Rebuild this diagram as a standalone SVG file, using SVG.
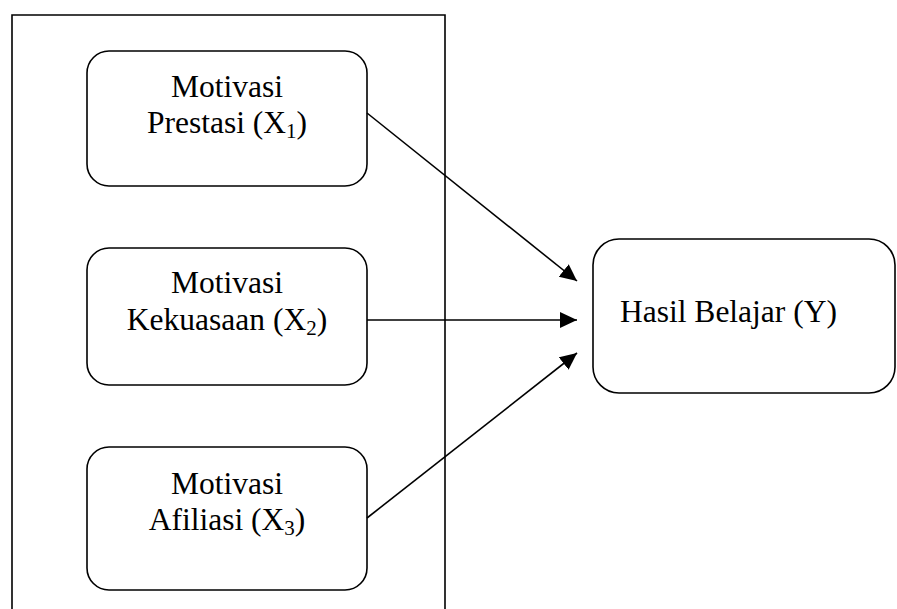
<svg xmlns="http://www.w3.org/2000/svg" width="897" height="609" viewBox="0 0 897 609">
<style>
.box{fill:#fff;stroke:#000;stroke-width:1.6}
.t{font-family:"Liberation Serif","Times New Roman",serif;font-size:31.5px;fill:#000}
.sub{font-size:21px}
.c{stroke:#000;stroke-width:1.6;fill:none}
</style>
<defs>
<marker id="ah" markerUnits="userSpaceOnUse" markerWidth="19" markerHeight="17" refX="17" refY="8" orient="auto">
<path d="M0,0 L17,8 L0,16 Z" fill="#000"/>
</marker>
</defs>
<rect x="0" y="0" width="897" height="609" fill="#fff"/>
<g id="frame">
<path d="M12,609 L12,15 L445,15 L445,609" class="c"/>
</g>
<g id="x1">
<rect class="box" x="87" y="51" width="280" height="135" rx="22"/>
<text class="t" x="227" y="97" text-anchor="middle">Motivasi</text>
<text class="t" x="227" y="133" text-anchor="middle">Prestasi (X<tspan class="sub" dy="5">1</tspan><tspan dy="-5">)</tspan></text>
</g>
<g id="x2">
<rect class="box" x="87" y="248" width="280" height="137" rx="22"/>
<text class="t" x="227" y="293" text-anchor="middle">Motivasi</text>
<text class="t" x="227" y="330" text-anchor="middle">Kekuasaan (X<tspan class="sub" dy="5">2</tspan><tspan dy="-5">)</tspan></text>
</g>
<g id="x3">
<rect class="box" x="87" y="447" width="280" height="143" rx="22"/>
<text class="t" x="227" y="494" text-anchor="middle">Motivasi</text>
<text class="t" x="227" y="530" text-anchor="middle">Afiliasi (X<tspan class="sub" dy="5">3</tspan><tspan dy="-5">)</tspan></text>
</g>
<g id="y">
<rect class="box" x="593" y="239" width="302" height="154" rx="26"/>
<text class="t" x="620" y="322">Hasil Belajar (Y)</text>
</g>
<g id="connectors">
<line class="c" x1="367" y1="113" x2="577" y2="281" marker-end="url(#ah)"/>
<line class="c" x1="367" y1="320" x2="577" y2="320" marker-end="url(#ah)"/>
<line class="c" x1="367" y1="518" x2="577" y2="353" marker-end="url(#ah)"/>
</g>
</svg>
